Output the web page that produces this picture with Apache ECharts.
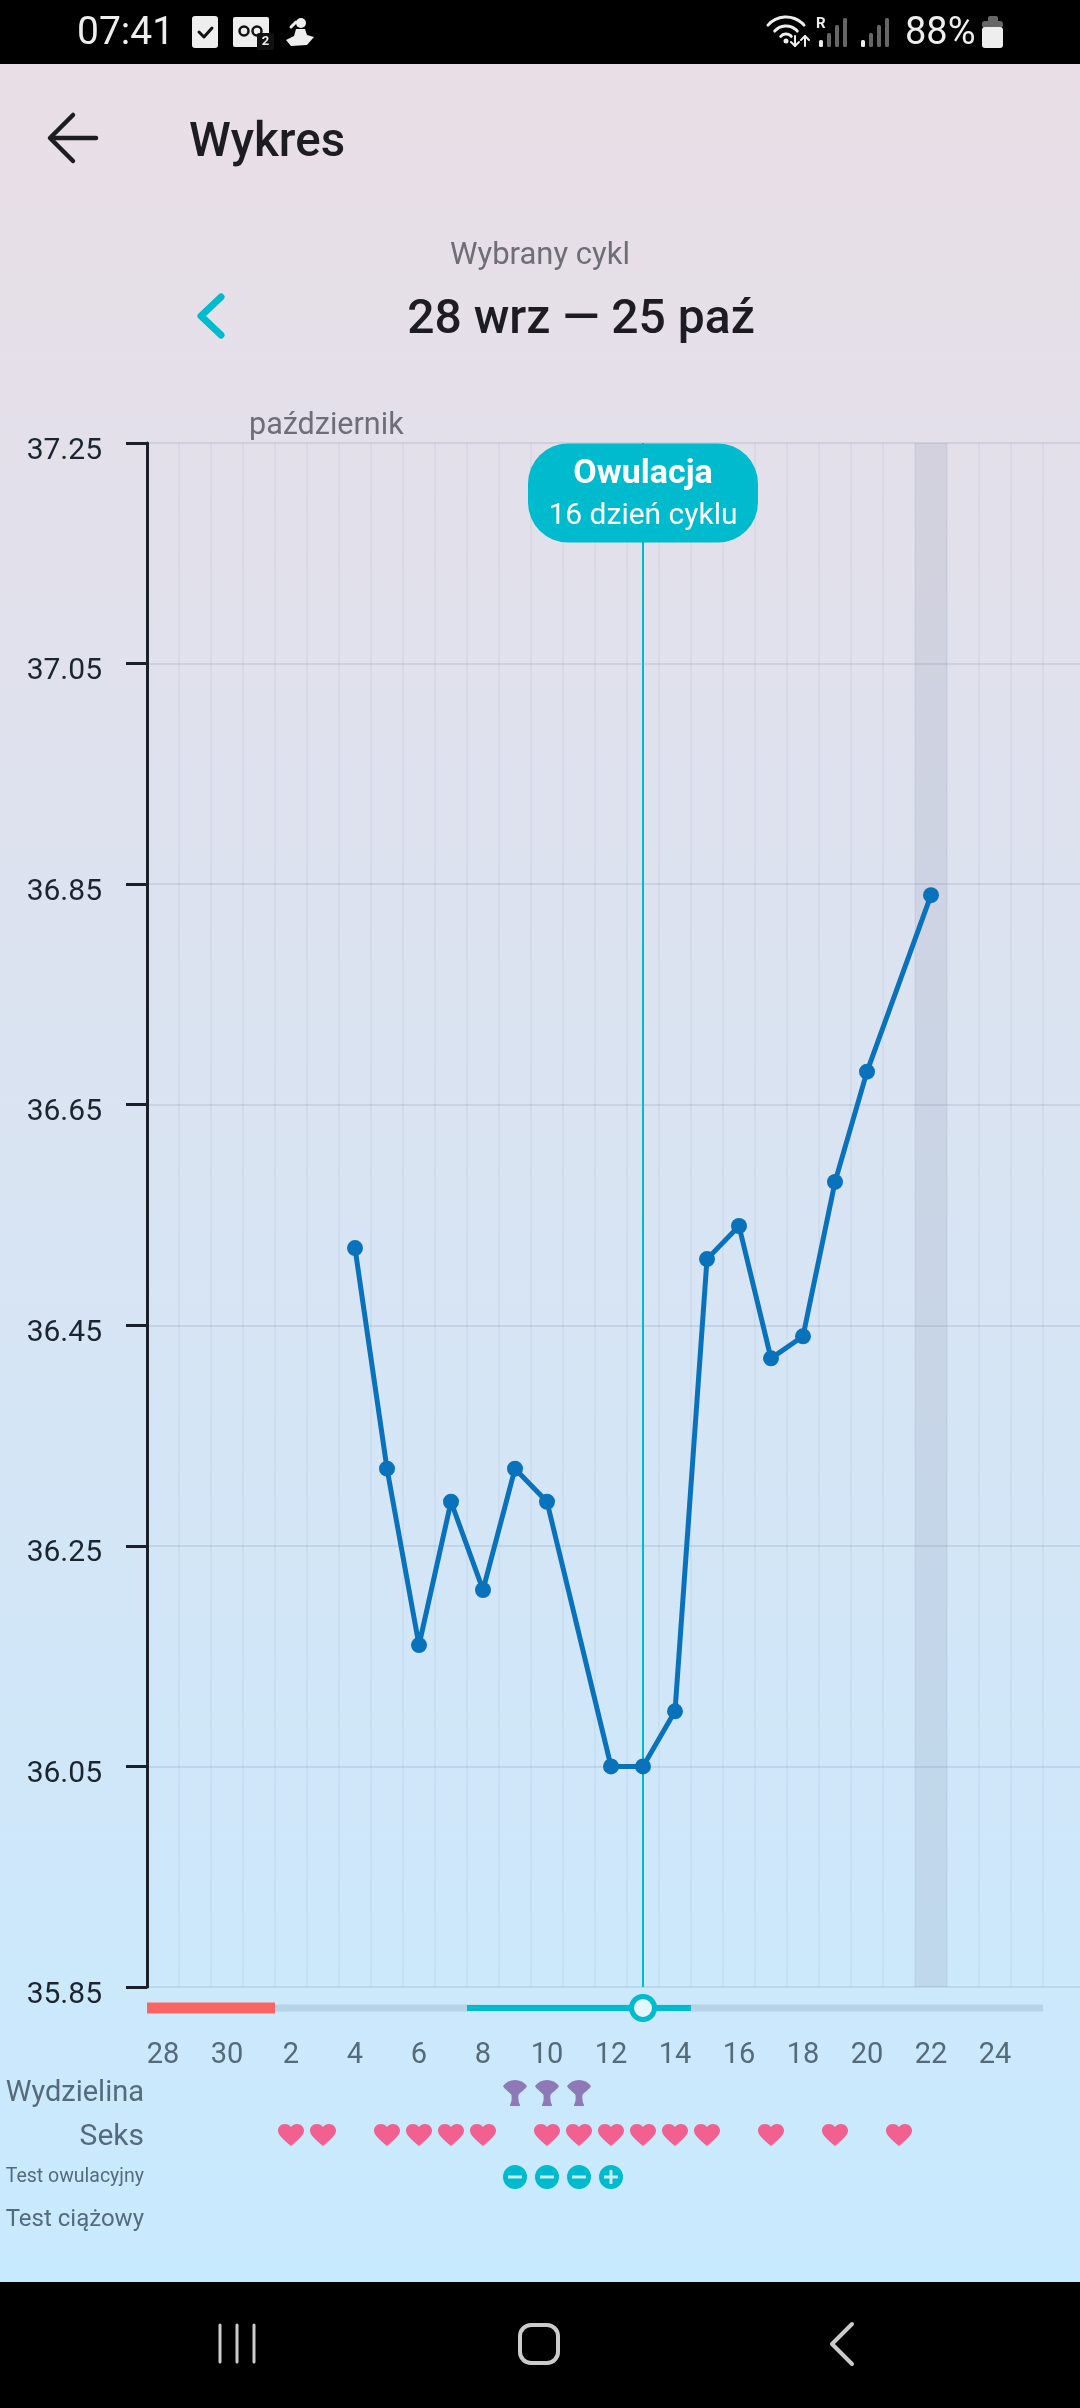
<!DOCTYPE html>
<html lang="pl">
<head>
<meta charset="utf-8">
<title>Wykres</title>
<style>html,body{margin:0;padding:0;background:#000}#c{width:1080px;height:2408px}</style>
<script src="https://cdn.jsdelivr.net/npm/echarts@6/dist/echarts.min.js"></script>
</head>
<body>
<div id="c"></div>
<script>
// ---- data ----
const days = ['28','29','30','1','2','3','4','5','6','7','8','9','10','11','12','13','14','15','16','17','18','19','20','21','22','23','24','25'];
const overflowSlots = ['', ' '];
const yTicks = [35.85, 36.05, 36.25, 36.45, 36.65, 36.85, 37.05, 37.25];
const tempDays = ['4','5','6','7','8','9','10','12','13','14','15','16','17','18','19','20','22'];
const tempValues = [36.52,36.32,36.16,36.29,36.21,36.32,36.29,36.05,36.05,36.10,36.51,36.54,36.42,36.44,36.58,36.68,36.84];
const ovulationDay = '13';
const highlightDay = '22';
const rows = ['Wydzielina','Seks','Test owulacyjny','Test ciążowy'];
const mucusDays = ['9','10','11'];
const sexDays = ['2','3','5','6','7','8','10','11','12','13','14','15','17','19','21'];
const ovuNegDays = ['9','10','11'];
const ovuPosDays = ['12'];
const cycleSpan = ['28','25'];
const periodSpan = ['28','1'];
const fertileSpan = ['8','14'];

// ---- symbols ----
const heart = 'path://M12 21.6C5 15.5 0 11 0 6.5C0 2.8 2.8 0 6.4 0C8.6 0 10.8 1.1 12 3C13.2 1.1 15.4 0 17.6 0C21.2 0 24 2.8 24 6.5C24 11 19 15.5 12 21.6Z';
const fan = 'path://M0 6C3 2 7 0 12 0C17 0 21 2 24 6C22 10 17 12 15.5 15C15 19 15.5 22 17 25L17 26L7 26L7 25C8.5 22 9 19 8.5 15C7 12 2 10 0 6Z';
const circ = 'M12 0A12 12 0 1 1 12 24A12 12 0 1 1 12 0Z';
const minus = 'path://' + circ + 'M5 10.5L5 13.5L19 13.5L19 10.5Z';
const plus = 'path://' + circ + 'M10.5 5L10.5 10.5L5 10.5L5 13.5L10.5 13.5L10.5 19L13.5 19L13.5 13.5L19 13.5L19 10.5L13.5 10.5L13.5 5Z';

const categories = days.concat(overflowSlots);
const tempByDay = new Map(tempDays.map((d, i) => [d, tempValues[i]]));
const TEAL = '#00bbcd';
const FONT = 'Roboto, sans-serif';

function span(a) { return [[categories.indexOf(a[0]), categories.indexOf(a[1]), 0.5]]; }
function bandRect(half, color) {
  return function (params, api) {
    const s = api.coord([api.value(0), api.value(2)]);
    const e = api.coord([api.value(1), api.value(2)]);
    const w = api.size([1, 0])[0];
    return { type: 'rect', shape: { x: s[0] - w / 2, y: s[1] - half, width: e[0] - s[0] + w, height: half * 2 }, style: { fill: color } };
  };
}
function phaseSeries(a, half, color, z) {
  return { type: 'custom', xAxisIndex: 2, yAxisIndex: 2, z, silent: true, data: span(a), encode: { x: [0, 1], y: 2 }, renderItem: bandRect(half, color) };
}
function rowSeries(list, row, symbol, size, color) {
  return { type: 'scatter', xAxisIndex: 1, yAxisIndex: 1, symbol, symbolSize: size, itemStyle: { color, opacity: 1 }, data: list.map(d => [d, row]) };
}
function txt(text, x, y, fill, font, align) {
  return { type: 'text', z: 10, silent: true, style: { text, x, y, fill, font, textAlign: align || 'left', textVerticalAlign: 'middle' } };
}
function poly(points, stroke, lineWidth) {
  return { type: 'polyline', z: 10, silent: true, shape: { points }, style: { stroke, lineWidth, lineCap: 'round', lineJoin: 'round', fill: null } };
}
function box(x, y, width, height, fill, r) {
  return { type: 'rect', z: 10, silent: true, shape: { x, y, width, height, r: r || 0 }, style: { fill } };
}
function arc(cx, cy, r, lw) {
  return { type: 'arc', z: 10, silent: true, shape: { cx, cy, r, startAngle: -Math.PI * 0.77, endAngle: -Math.PI * 0.23 }, style: { stroke: '#eee', lineWidth: lw, fill: null, lineCap: 'round' } };
}

const graphics = [
  { type: 'rect', z: -10, silent: true, shape: { x: 0, y: 64, width: 1080, height: 2218 },
    style: { fill: new echarts.graphic.LinearGradient(0, 0, 0, 1, [{ offset: 0, color: '#e9dee6' }, { offset: 1, color: '#c8eaff' }]) } },
  // status bar
  txt('07:41', 77, 34, '#eeeeee', '39px ' + FONT),
  box(192, 16, 26, 32, '#eeeeee', 3),
  poly([[199, 32], [204, 37], [212, 28]], '#111', 3),
  box(233, 17, 36, 30, '#eeeeee', 2),
  { type: 'circle', z: 11, silent: true, shape: { cx: 244, cy: 31, r: 4.5 }, style: { fill: null, stroke: '#111', lineWidth: 2.5 } },
  { type: 'circle', z: 11, silent: true, shape: { cx: 257, cy: 31, r: 4.5 }, style: { fill: null, stroke: '#111', lineWidth: 2.5 } },
  box(257, 33, 17, 17, '#111', 2),
  Object.assign(txt('2', 265.5, 42, '#eee', 'bold 13px ' + FONT, 'center'), { z: 12 }),
  { type: 'circle', z: 10, silent: true, shape: { cx: 301, cy: 23, r: 5 }, style: { fill: '#eee' } },
  poly([[296, 22], [291, 27]], '#eee', 3),
  { type: 'polygon', z: 10, silent: true, shape: { points: [[296, 29], [305, 29], [307, 35], [314, 37], [307, 45], [291, 46], [286, 40], [294, 36]] }, style: { fill: '#eee' } },
  arc(786, 41, 24, 3), arc(786, 41, 15, 3), arc(786, 41, 7, 3),
  { type: 'circle', z: 10, silent: true, shape: { cx: 786, cy: 41, r: 2.5 }, style: { fill: '#eee' } },
  poly([[795, 36], [795, 46], [791, 42]], '#eee', 2), poly([[795, 46], [799, 42]], '#eee', 2),
  poly([[805, 46], [805, 36], [801, 40]], '#eee', 2), poly([[805, 36], [809, 40]], '#eee', 2),
  txt('R', 816, 24, '#eee', 'bold 15px ' + FONT),
  box(819, 40, 4, 7, '#eee', 1.5), box(827, 33, 4, 14, '#666', 1.5), box(835, 25, 4, 22, '#666', 1.5), box(843, 18, 4, 29, '#666', 1.5),
  box(861, 40, 4, 7, '#eee', 1.5), box(869, 33, 4, 14, '#666', 1.5), box(877, 25, 4, 22, '#666', 1.5), box(885, 18, 4, 29, '#666', 1.5),
  txt('88%', 905, 34, '#eeeeee', '38px ' + FONT),
  box(988, 16, 10, 8, '#666', 2),
  box(982, 21, 21, 7, '#666', 3),
  box(982, 27, 21, 21, '#eeeeee', 3),
  // header
  poly([[73, 115], [50, 138], [73, 161]], '#1c1c22', 4.5),
  poly([[51, 138], [96, 138]], '#1c1c22', 4.5),
  txt('Wykres', 189, 144, '#1c1c22', '500 47.5px ' + FONT),
  txt('Wybrany cykl', 540, 256, '#6e6e78', '31px ' + FONT, 'center'),
  poly([[221, 297], [201, 316], [221, 335]], TEAL, 7),
  txt('28 wrz — 25 paź', 581, 321, '#1c1c22', '500 48px ' + FONT, 'center'),
  txt('październik', 249, 426, '#6e6e78', '30.5px ' + FONT),
  // navigation bar
  poly([[220, 2325], [220, 2362]], '#cccccc', 3), poly([[237, 2325], [237, 2362]], '#cccccc', 3), poly([[254, 2325], [254, 2362]], '#cccccc', 3),
  { type: 'rect', z: 10, silent: true, shape: { x: 520, y: 2325, width: 38, height: 38, r: 11 }, style: { fill: null, stroke: '#cccccc', lineWidth: 4 } },
  poly([[852, 2324], [832, 2344], [852, 2364]], '#cccccc', 4)
];

const chart = echarts.init(document.getElementById('c'), null, { renderer: 'canvas', width: 1080, height: 2408 });
chart.setOption({
  animation: false,
  backgroundColor: '#000',
  textStyle: { fontFamily: FONT },
  grid: [
    { left: 147, top: 443, width: 960, height: 1544, outerBoundsMode: 'none' },
    { left: 147, top: 2072, width: 960, height: 168, outerBoundsMode: 'none' },
    { left: 147, top: 1996, width: 960, height: 24, outerBoundsMode: 'none' }
  ],
  xAxis: [
    { gridIndex: 0, type: 'category', data: categories, boundaryGap: true,
      axisLine: { show: false }, axisTick: { show: false }, axisLabel: { show: false },
      splitLine: { show: true, interval: (i) => i > 0 && i <= days.length, lineStyle: { color: 'rgba(90,105,140,0.06)', width: 2 } } },
    { gridIndex: 1, type: 'category', position: 'top', data: categories, boundaryGap: true,
      axisLine: { show: false }, axisTick: { show: false }, splitLine: { show: false },
      axisLabel: { interval: 1, color: '#566b7a', fontSize: 29, fontFamily: FONT, margin: 2 } },
    { gridIndex: 2, type: 'category', data: categories, boundaryGap: true, show: false }
  ],
  yAxis: [
    { gridIndex: 0, type: 'value', min: yTicks[0], max: yTicks[yTicks.length - 1],
      axisLine: { show: true, onZero: false, lineStyle: { color: '#1b2029', width: 3 } },
      axisTick: { show: true, length: 21, customValues: yTicks, lineStyle: { color: '#1b2029', width: 3 } },
      axisLabel: { customValues: yTicks, margin: 45, color: '#1b2530', fontSize: 30, fontFamily: FONT, verticalAlign: 'top', lineHeight: 16, formatter: v => v.toFixed(2) },
      splitLine: { show: true, lineStyle: { color: 'rgba(90,105,140,0.14)', width: 2 } } },
    { gridIndex: 1, type: 'category', data: rows, inverse: true,
      axisLine: { show: false }, axisTick: { show: false }, splitLine: { show: false },
      axisLabel: { margin: 3, color: '#566b7a', fontFamily: FONT,
        formatter: v => v === rows[0] ? '{w|' + v + '}' : v === rows[1] ? '{k|' + v + '}' : v === rows[2] ? '{s|' + v + '}' : '{m|' + v + '}',
        rich: { w: { fontSize: 29, color: '#566b7a', fontFamily: FONT, padding: [1, 0, 0, 0] },
                k: { fontSize: 30, color: '#566b7a', fontFamily: FONT, padding: [5, 0, 0, 0] },
                s: { fontSize: 19.5, color: '#566b7a', fontFamily: FONT },
                m: { fontSize: 24, color: '#566b7a', fontFamily: FONT, padding: [2, 0, 0, 0] } } } },
    { gridIndex: 2, type: 'value', min: 0, max: 1, show: false }
  ],
  series: [
    { type: 'bar', xAxisIndex: 0, yAxisIndex: 0, barWidth: '100%', silent: true, z: 1,
      itemStyle: { color: 'rgba(110,120,150,0.14)' },
      data: categories.map(d => d === highlightDay ? yTicks[yTicks.length - 1] : null) },
    { type: 'line', xAxisIndex: 0, yAxisIndex: 0, z: 5, connectNulls: true,
      symbol: 'circle', symbolSize: 16, showSymbol: true,
      lineStyle: { color: '#0a72ba', width: 5 }, itemStyle: { color: '#0a72ba' },
      data: categories.map(d => tempByDay.has(d) ? tempByDay.get(d) : null),
      markLine: { silent: true, symbol: 'none', label: { show: false },
        lineStyle: { color: TEAL, width: 2, type: 'solid' }, data: [{ xAxis: ovulationDay }] },
      markPoint: { silent: true, symbol: 'circle', symbolSize: 1, itemStyle: { color: 'transparent' },
        data: [{ coord: [ovulationDay, yTicks[yTicks.length - 1]] }],
        label: { show: true, position: 'bottom', distance: 0, backgroundColor: TEAL, borderRadius: 40,
          width: 230, padding: [8, 0, 7, 0], align: 'center',
          formatter: '{a|Owulacja}\n{b|16 dzień cyklu}',
          rich: { a: { fontSize: 34, fontWeight: 'bold', color: '#fff', lineHeight: 46, fontFamily: FONT, align: 'center' },
                  b: { fontSize: 30, color: '#fff', lineHeight: 38, fontFamily: FONT, align: 'center' } } } } },
    rowSeries(mucusDays, rows[0], fan, [24, 26], '#8f78b8'),
    rowSeries(sexDays, rows[1], heart, [26, 22], '#f1608f'),
    rowSeries(ovuNegDays, rows[2], minus, 24, TEAL),
    rowSeries(ovuPosDays, rows[2], plus, 24, TEAL),
    phaseSeries(cycleSpan, 3.5, '#b5d2e6', 2),
    phaseSeries(periodSpan, 5.5, '#fc6463', 3),
    phaseSeries(fertileSpan, 3, TEAL, 3),
    { type: 'scatter', xAxisIndex: 2, yAxisIndex: 2, z: 6, symbol: 'circle', symbolSize: 23, silent: true,
      itemStyle: { color: '#e6f6ff', borderColor: TEAL, borderWidth: 5, opacity: 1 },
      data: [[ovulationDay, 0.5]] }
  ],
  graphic: graphics
});
</script>
</body>
</html>
